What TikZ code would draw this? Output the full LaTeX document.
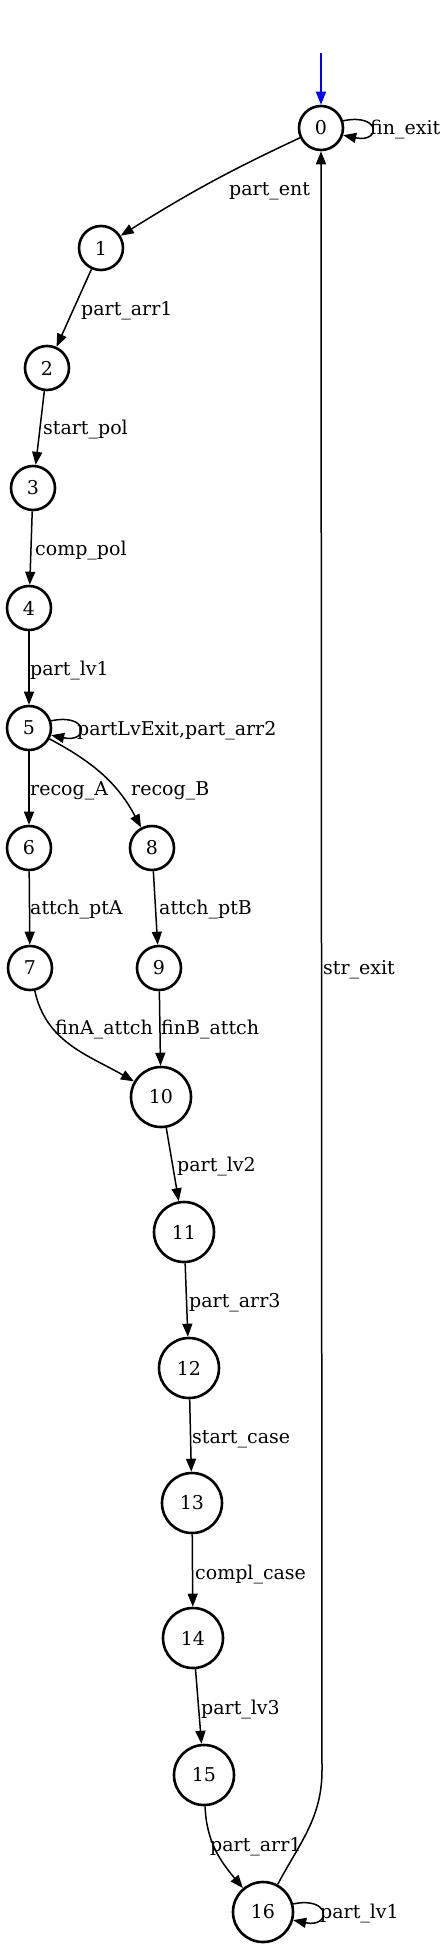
\documentclass[tikz,border=0pt]{standalone}
\usepackage{fontspec}
\setmainfont{DejaVu Serif}
\usetikzlibrary{arrows.meta}
\tikzset{
  st/.style={circle, draw, line width=2.6pt, minimum size=44pt, inner sep=0pt, font=\fontsize{19}{22}\selectfont},
  stbig/.style={st, minimum size=60pt},
  tr/.style={line width=1.5pt, -{Triangle[length=13pt,width=10pt]}},
  lbl/.style={anchor=base west, inner sep=0pt, font=\fontsize{19}{22}\selectfont},
}
\begin{document}
\begin{tikzpicture}[x=1pt,y=1pt]
\useasboundingbox (0,0) rectangle (447,-1949);
% states
\node[st] (n0) at (321,-128) {0};
\node[st] (n1) at (101,-248) {1};
\node[st] (n2) at (47,-368) {2};
\node[st] (n3) at (33,-488) {3};
\node[st] (n4) at (29,-608) {4};
\node[st] (n5) at (29,-728) {5};
\node[st] (n6) at (29,-848) {6};
\node[st] (n8) at (152,-848) {8};
\node[st] (n7) at (30,-968) {7};
\node[st] (n9) at (159,-968) {9};
\node[stbig] (n10) at (161,-1097) {10};
\node[stbig] (n11) at (184,-1232) {11};
\node[stbig] (n12) at (189,-1368) {12};
\node[stbig] (n13) at (192,-1503) {13};
\node[stbig] (n14) at (193,-1638) {14};
\node[stbig] (n15) at (204,-1775) {15};
\node[stbig] (n16) at (263,-1912) {16};
% initial arrow
\coordinate (init) at (321,-53);
\draw[tr, blue] (init) -- (n0);
% transitions
\draw[tr] (n0.18) .. controls +(38,8) and +(38,-8) .. (n0.-18);
\draw[tr] (n0) to[out=205,in=32] (n1);
\draw[tr] (n1) -- (n2);
\draw[tr] (n2) -- (n3);
\draw[tr] (n3) -- (n4);
\draw[tr] (n4) -- (n5);
\draw[tr] (n5.18) .. controls +(38,8) and +(38,-8) .. (n5.-18);
\draw[tr] (n5) -- (n6);
\draw[tr] (n5) to[out=-28,in=118] (n8);
\draw[tr] (n6) -- (n7);
\draw[tr] (n8) -- (n9);
\draw[tr] (n7) to[out=-78,in=150] (n10);
\draw[tr] (n9) -- (n10);
\draw[tr] (n10) -- (n11);
\draw[tr] (n11) -- (n12);
\draw[tr] (n12) -- (n13);
\draw[tr] (n13) -- (n14);
\draw[tr] (n14) -- (n15);
\draw[tr] (n15) to[out=-88,in=130] (n16);
\draw[tr] (n16.15) .. controls +(38,8) and +(38,-8) .. (n16.-15);
\coordinate (c16) at (322,-1770);
\draw[tr] (n16) to[out=62,in=-90] (c16) -- (n0);
% labels
\node[lbl] (l00) at (370,-134) {fin\_exit};
\node[lbl] (l01) at (229,-195) {part\_ent};
\node[lbl] (l12) at (81,-315) {part\_arr1};
\node[lbl] (l23) at (43,-434) {start\_pol};
\node[lbl] (l34) at (35,-555) {comp\_pol};
\node[lbl] (l45) at (30,-675) {part\_lv1};
\node[lbl] (l55) at (77,-735) {partLvExit,part\_arr2};
\node[lbl] (l56) at (30,-795) {recog\_A};
\node[lbl] (l58) at (131,-795) {recog\_B};
\node[lbl] (l67) at (30,-914) {attch\_ptA};
\node[lbl] (l89) at (159,-914) {attch\_ptB};
\node[lbl] (l710) at (55,-1034) {finA\_attch};
\node[lbl] (l910) at (161,-1034) {finB\_attch};
\node[lbl] (l160) at (323,-974) {str\_exit};
\node[lbl] (l1011) at (177,-1171) {part\_lv2};
\node[lbl] (l1112) at (189,-1307) {part\_arr3};
\node[lbl] (l1213) at (192,-1443) {start\_case};
\node[lbl] (l1314) at (195,-1579) {compl\_case};
\node[lbl] (l1415) at (201,-1714) {part\_lv3};
\node[lbl] (l1516) at (210,-1851) {part\_arr1};
\node[lbl] (l1616) at (320,-1918) {part\_lv1};
\end{tikzpicture}
\end{document}
